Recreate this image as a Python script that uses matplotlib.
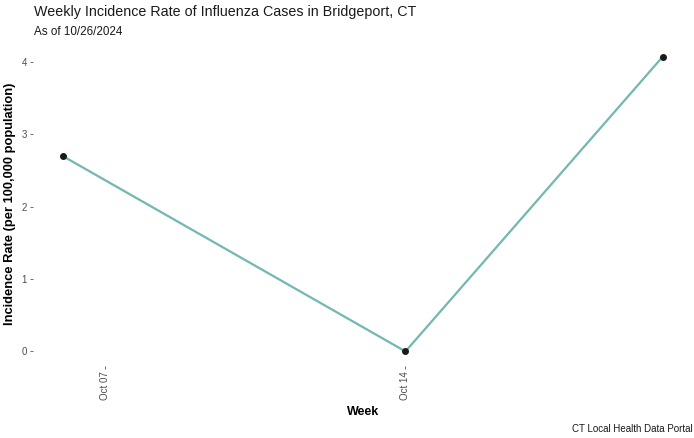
import matplotlib
matplotlib.use("Agg")
from matplotlib import pyplot as plt
import pandas as pd

plt.rcParams['font.family'] = ['Liberation Sans', 'DejaVu Sans']

weeks = pd.to_datetime(["2024-10-06", "2024-10-14", "2024-10-20"])
rates = [2.70, 0.0, 4.07]
tick_dates = pd.to_datetime(["2024-10-07", "2024-10-14"])
tick_labels = ["Oct 07", "Oct 14"]

fig = plt.figure(figsize=(6.94, 4.38), dpi=100)
ax = fig.add_axes([0.047, 0.164, 0.951, 0.740])

ax.plot(weeks, rates, color='#72B8B1', linewidth=1.6, zorder=2)
ax.scatter(weeks, rates, color='#1a1a1a', s=16, zorder=3)

span = weeks.max() - weeks.min()
ax.set_xlim(weeks.min() - span * 0.05, weeks.max() + span * 0.05)
ax.set_ylim(-0.2035, 4.2735)

ax.set_xticks(tick_dates)
ax.set_xticklabels(tick_labels, rotation=90, va='top', ha='center')
ax.set_yticks(range(0, 5))

for s in ax.spines.values():
    s.set_visible(False)
ax.tick_params(axis='both', colors='#555555', labelsize=7, length=2.5, width=0.6, pad=1.5)
ax.tick_params(axis='both', labelcolor='#4d4d4d')

ax.set_xlabel("Week", fontsize=9, fontweight='bold', labelpad=4)
ax.set_ylabel("Incidence Rate (per 100,000 population)", fontsize=9.3, fontweight='bold')
ax.yaxis.set_label_coords(-0.025, 0.5)

fig.text(0.049, 0.973, "Weekly Incidence Rate of Influenza Cases in Bridgeport, CT", fontsize=10.3, va='center', ha='left', color='#1a1a1a')
fig.text(0.049, 0.927, "As of 10/26/2024", fontsize=8.4, va='center', ha='left', color='#1a1a1a')
fig.text(0.998, 0.020, "CT Local Health Data Portal", fontsize=7, va='center', ha='right', color='#1a1a1a')

fig.savefig("out.png", dpi=100, facecolor='white')
